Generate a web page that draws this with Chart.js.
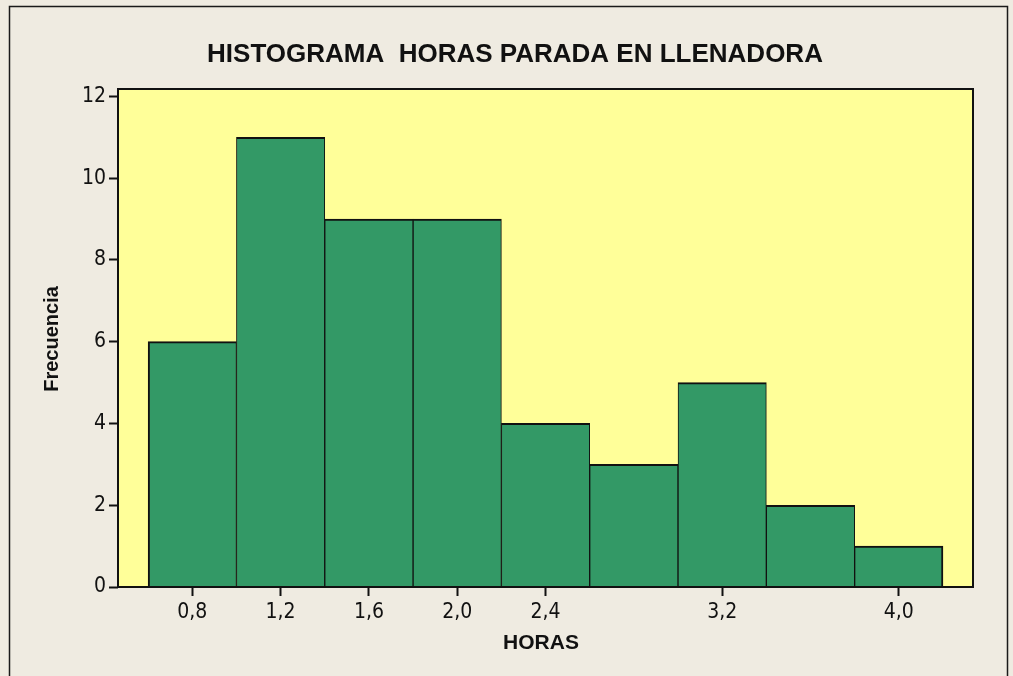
<!DOCTYPE html>
<html>
<head>
<meta charset="utf-8">
<script src="https://cdn.jsdelivr.net/npm/chart.js@4/dist/chart.umd.min.js"></script>
<style>
html,body{margin:0;padding:0;background:#EFEBE1;}
canvas{display:block;}
</style>
</head>
<body>
<canvas id="c" width="1013" height="676"></canvas>
<script>
// ---- data ----
const binCenters = [0.8, 1.2, 1.6, 2.0, 2.4, 2.8, 3.2, 3.6, 4.0];
const frequencies = [6, 11, 9, 9, 4, 3, 5, 2, 1];
const xTickValues = [0.8, 1.2, 1.6, 2.0, 2.4, 3.2, 4.0];
const yTickValues = [0, 2, 4, 6, 8, 10, 12];
const titleText = 'HISTOGRAMA  HORAS PARADA EN LLENADORA';
const xTitle = 'HORAS';
const yTitle = 'Frecuencia';

const BG = '#EFEBE1';
const PLOT_BG = '#FFFF99';
const BAR = '#339966';
const INK = '#111111';
const TICK_FONT = '"DejaVu Sans Condensed", "Liberation Sans", Arial, sans-serif';

const decoPlugin = {
  id: 'deco',
  beforeDraw(chart) {
    const ctx = chart.ctx, a = chart.chartArea;
    ctx.save();
    ctx.fillStyle = BG;
    ctx.fillRect(0, 0, chart.width, chart.height);
    ctx.strokeStyle = '#1a1a1a';
    ctx.lineWidth = 1.5;
    ctx.strokeRect(9.5, 6.5, 998, 672);
    ctx.fillStyle = PLOT_BG;
    ctx.fillRect(a.left, a.top, a.right - a.left, a.bottom - a.top);
    ctx.restore();
  },
  afterDatasetsDraw(chart) {
    const ctx = chart.ctx, a = chart.chartArea;
    ctx.save();
    ctx.strokeStyle = INK;
    ctx.lineWidth = 2;
    ctx.strokeRect(a.left, a.top, a.right - a.left, a.bottom - a.top);
    ctx.restore();
  },
  afterDraw(chart) {
    const ctx = chart.ctx;
    ctx.save();
    ctx.fillStyle = INK;
    ctx.textAlign = 'center';
    ctx.textBaseline = 'middle';
    ctx.font = 'bold 26px "Liberation Sans", Arial, sans-serif';
    ctx.fillText(titleText, 515, 55);
    ctx.font = 'bold 21px "Liberation Sans", Arial, sans-serif';
    ctx.fillText(xTitle, 541, 643);
    ctx.translate(52, 339);
    ctx.rotate(-Math.PI / 2);
    ctx.font = 'bold 20px "Liberation Sans", Arial, sans-serif';
    ctx.fillText(yTitle, 0, 0);
    ctx.restore();
  }
};

const fmt = v => v.toFixed(1).replace('.', ',');

new Chart(document.getElementById('c'), {
  type: 'bar',
  data: {
    datasets: [{
      data: binCenters.map((x, i) => ({ x: x, y: frequencies[i] })),
      backgroundColor: BAR,
      borderColor: INK,
      borderSkipped: false,
      borderWidth: ctx => ({
        top: 2,
        bottom: 0,
        left: ctx.dataIndex === 0 ? 2 : 1,
        right: ctx.dataIndex === binCenters.length - 1 ? 2 : 1
      }),
      barPercentage: 1.0,
      categoryPercentage: 1.0
    }]
  },
  options: {
    responsive: false,
    animation: false,
    devicePixelRatio: 1,
    layout: { padding: { left: 0, top: 89, right: 40, bottom: 0 } },
    plugins: { legend: { display: false }, tooltip: { enabled: false }, title: { display: false } },
    scales: {
      x: {
        type: 'linear',
        offset: false,
        min: 0.4635,
        max: 4.336,
        afterBuildTicks: s => { s.ticks = xTickValues.map(v => ({ value: v })); },
        afterFit: s => { s.height = 89; },
        border: { display: false },
        grid: { drawOnChartArea: false, drawTicks: true, tickLength: 9, tickColor: INK, tickWidth: 2, offset: false },
        ticks: {
          autoSkip: false,
          maxRotation: 0,
          padding: 4,
          color: INK,
          font: { family: TICK_FONT, size: 21 },
          callback: v => fmt(v)
        }
      },
      y: {
        min: 0,
        max: 12.18,
        afterBuildTicks: s => { s.ticks = yTickValues.map(v => ({ value: v })); },
        afterFit: s => { s.width = 118; },
        border: { display: false },
        grid: { drawOnChartArea: false, drawTicks: true, tickLength: 9, tickColor: INK, tickWidth: 2 },
        ticks: {
          padding: 3,
          color: INK,
          font: { family: TICK_FONT, size: 21 },
          callback: v => String(v)
        }
      }
    }
  },
  plugins: [decoPlugin]
});
</script>
</body>
</html>
